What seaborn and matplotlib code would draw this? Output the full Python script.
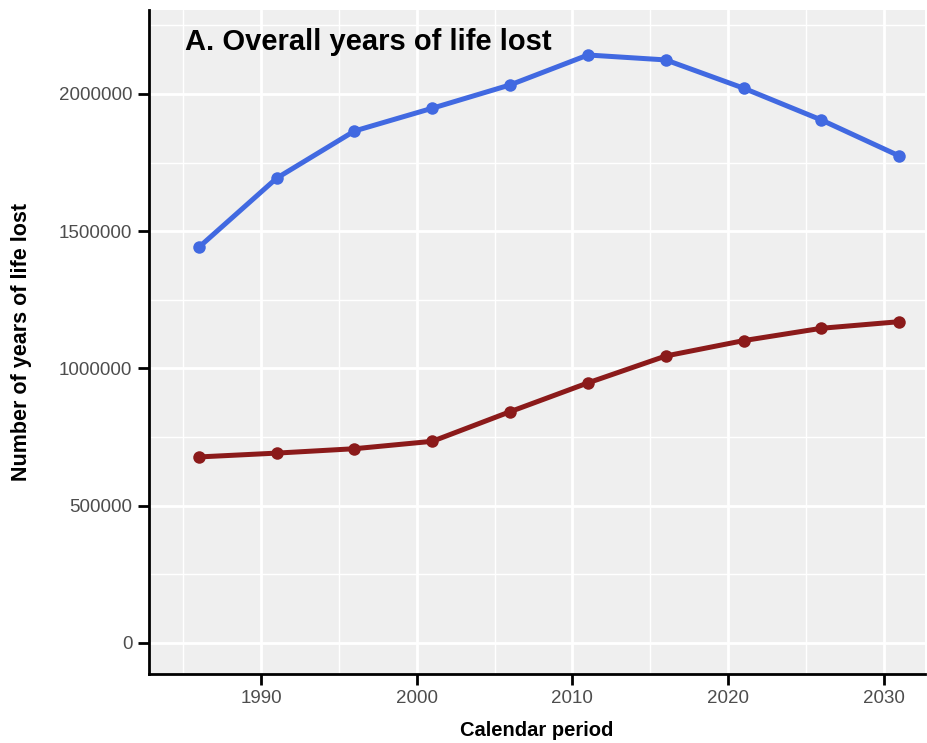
import numpy as np
import pandas as pd
import matplotlib
matplotlib.use("Agg")
import matplotlib.pyplot as plt
import seaborn as sns
from matplotlib.ticker import FixedLocator

years = [1986, 1991, 1996, 2001, 2006, 2011, 2016, 2021, 2026, 2031]
blue_values = [1441000, 1693000, 1865000, 1948000, 2033000, 2142000, 2124000, 2021000, 1905000, 1774000]
red_values = [677000, 691000, 707000, 734000, 842000, 947000, 1045000, 1101000, 1146000, 1170000]
series_names = ["Series 1", "Series 2"]
series_colors = ["#4169E1", "#8B1A1A"]
x_ticks = [1990, 2000, 2010, 2020, 2030]
y_ticks = [0, 500000, 1000000, 1500000, 2000000]
title_text = "A. Overall years of life lost"
x_label = "Calendar period"
y_label = "Number of years of life lost"

df = pd.DataFrame({
    "year": years * 2,
    "yll": blue_values + red_values,
    "series": [series_names[0]] * len(years) + [series_names[1]] * len(years),
})

sns.set_theme(style="white")
plt.rcParams["font.family"] = ["Liberation Sans", "DejaVu Sans"]

fig = plt.figure(figsize=(9.27, 7.43), dpi=100)
ax = fig.add_axes([149/927, 1 - 673.7/743, (925 - 149)/927, (673.7 - 10)/743])
ax.set_facecolor("#EFEFEF")

sns.lineplot(data=df, x="year", y="yll", hue="series",
             palette=dict(zip(series_names, series_colors)),
             marker="o", markersize=9, markeredgewidth=0,
             linewidth=3.6, legend=False, ax=ax, zorder=3)

ax.set_xlim(1982.8, 2032.65)
ax.set_ylim(-113000, 2306000)
ax.xaxis.set_major_locator(FixedLocator(x_ticks))
ax.yaxis.set_major_locator(FixedLocator(y_ticks))
ax.xaxis.set_minor_locator(FixedLocator([1985, 1995, 2005, 2015, 2025]))
ax.yaxis.set_minor_locator(FixedLocator([250000, 750000, 1250000, 1750000, 2250000]))
ax.set_yticklabels([str(v) for v in y_ticks])
ax.set_xticklabels([str(v) for v in x_ticks])

ax.grid(which="major", color="white", linewidth=2.0)
ax.grid(which="minor", color="white", linewidth=1.0)
ax.set_axisbelow(True)

for s in ["top", "right"]:
    ax.spines[s].set_visible(False)
for s in ["left", "bottom"]:
    ax.spines[s].set_visible(True)
    ax.spines[s].set_color("black")
    ax.spines[s].set_linewidth(2.0)

ax.tick_params(axis="both", which="major", length=8, width=2, color="black",
               labelsize=13.5, labelcolor="#4D4D4D", pad=4,
               bottom=True, left=True)
ax.tick_params(axis="both", which="minor", length=0)

ax.set_xlabel(x_label, fontsize=14.5, fontweight="bold", color="black", labelpad=10)
ax.set_ylabel(y_label, fontsize=15.5, fontweight="bold", color="black", labelpad=19)

ax.text(0.0464, 0.9397, title_text, transform=ax.transAxes, fontsize=21,
        fontweight="bold", color="black", va="baseline", ha="left", zorder=5)

fig.savefig("out.png", dpi=100)
